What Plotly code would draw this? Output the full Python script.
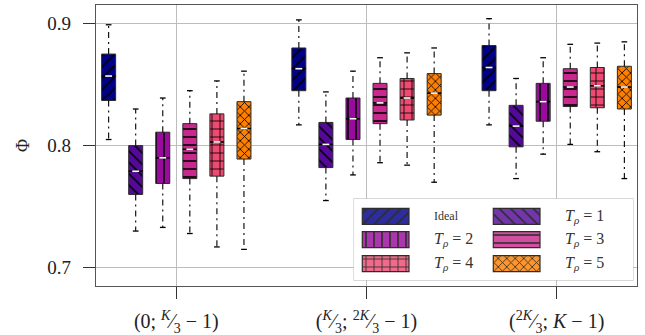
import plotly.graph_objects as go

# ---------------- data ----------------
group_labels = [
    "(0; <sup><i>K</i></sup>⁄<sub>3</sub> − 1)",
    "(<sup><i>K</i></sup>⁄<sub>3</sub>; <sup>2<i>K</i></sup>⁄<sub>3</sub> − 1)",
    "(<sup>2<i>K</i></sup>⁄<sub>3</sub>; <i>K</i> − 1)",
]
series_names = ["Ideal", "T1", "T2", "T3", "T4", "T5"]
legend_texts = [
    "Ideal",
    "<i>T</i><sub><i>ρ</i></sub> = 1",
    "<i>T</i><sub><i>ρ</i></sub> = 2",
    "<i>T</i><sub><i>ρ</i></sub> = 3",
    "<i>T</i><sub><i>ρ</i></sub> = 4",
    "<i>T</i><sub><i>ρ</i></sub> = 5",
]
colors = ["#000088", "#55099a", "#9a0a9c", "#c9288c", "#ef4a72", "#ff8000"]
patterns = ["/", "\\", "|", "-", "+", "x"]

# per series (rows) and per group (columns)
whisker_low = [
    [0.805, 0.817, 0.817],
    [0.730, 0.755, 0.773],
    [0.733, 0.776, 0.793],
    [0.728, 0.786, 0.801],
    [0.717, 0.784, 0.795],
    [0.715, 0.770, 0.773],
]
q1 = [
    [0.837, 0.845, 0.845],
    [0.760, 0.782, 0.799],
    [0.769, 0.805, 0.820],
    [0.773, 0.818, 0.832],
    [0.775, 0.821, 0.831],
    [0.789, 0.825, 0.830],
]
median = [
    [0.857, 0.863, 0.864],
    [0.779, 0.801, 0.816],
    [0.790, 0.822, 0.836],
    [0.797, 0.835, 0.848],
    [0.803, 0.839, 0.849],
    [0.814, 0.843, 0.848],
]
q3 = [
    [0.875, 0.880, 0.882],
    [0.800, 0.819, 0.833],
    [0.811, 0.839, 0.851],
    [0.818, 0.851, 0.863],
    [0.826, 0.855, 0.864],
    [0.836, 0.859, 0.865],
]
whisker_high = [
    [0.899, 0.903, 0.904],
    [0.830, 0.844, 0.855],
    [0.839, 0.861, 0.872],
    [0.845, 0.872, 0.883],
    [0.853, 0.876, 0.884],
    [0.861, 0.880, 0.885],
]
y_ticks = [0.7, 0.8, 0.9]
y_tick_labels = ["0.7", "0.8", "0.9"]

# ---------------- layout constants ----------------
FONT = "Liberation Serif"
n_series = len(series_names)
spacing = 0.1423
box_w = 0.0736
cap_half = 0.015
med_white_half = 0.018

def pat(s):
    return dict(shape=patterns[s], fgcolor="black", bgcolor=colors[s], fgopacity=1,
                size=8 if s < 5 else 6, solidity=0.2 if s < 5 else 0.26)

fig = go.Figure()

whx, why, capx, capy, mbx, mby, mwx, mwy = [], [], [], [], [], [], [], []
for s in range(n_series):
    off = (s - (n_series - 1) / 2) * spacing
    xs = [g + off for g in range(len(group_labels))]
    fig.add_trace(go.Bar(
        x=xs, y=[b - a for a, b in zip(q1[s], q3[s])], base=q1[s], width=box_w,
        marker=dict(color=colors[s], line=dict(color="#2a2a2a", width=1), pattern=pat(s)),
        showlegend=False, name=series_names[s], xaxis="x", yaxis="y", hoverinfo="skip",
    ))
    for g, x in enumerate(xs):
        whx += [x, x, None, x, x, None]
        why += [q3[s][g], whisker_high[s][g], None, q1[s][g], whisker_low[s][g], None]
        capx += [x - cap_half, x + cap_half, None, x - cap_half, x + cap_half, None]
        capy += [whisker_high[s][g], whisker_high[s][g], None, whisker_low[s][g], whisker_low[s][g], None]
        mbx += [x - box_w / 2, x + box_w / 2, None]
        mby += [median[s][g], median[s][g], None]
        mwx += [x - med_white_half, x + med_white_half, None]
        mwy += [median[s][g], median[s][g], None]

fig.add_trace(go.Scatter(x=whx, y=why, mode="lines", line=dict(color="black", width=1.1, dash="6px,4px,2px,4px"),
                         showlegend=False, hoverinfo="skip"))
fig.add_trace(go.Scatter(x=capx, y=capy, mode="lines", line=dict(color="black", width=1.3),
                         showlegend=False, hoverinfo="skip"))
fig.add_trace(go.Scatter(x=mbx, y=mby, mode="lines", line=dict(color="black", width=1.6),
                         showlegend=False, hoverinfo="skip"))
fig.add_trace(go.Scatter(x=mwx, y=mwy, mode="lines", line=dict(color="white", width=1.6),
                         showlegend=False, hoverinfo="skip"))

# ---------------- custom legend (inset axes, local pixel units) ----------------
leg_rows = [17.3, 40.7, 64.7]
leg_cols = [8.3, 139.3]
leg_text_x = [78.3, 209.3]
sw_w, sw_h = 46.7, 16
for s in range(n_series):
    r, c = divmod(s, 2)
    fig.add_trace(go.Bar(
        x=[sw_w], y=[leg_rows[r]], base=[leg_cols[c]], width=sw_h, orientation="h",
        marker=dict(color=colors[s], opacity=0.82, line=dict(color="black", width=1.2), pattern=pat(s)),
        showlegend=False, xaxis="x2", yaxis="y2", hoverinfo="skip",
    ))
    fig.add_annotation(x=leg_text_x[c], y=leg_rows[r], xref="x2", yref="y2", text=legend_texts[s],
                       showarrow=False, xanchor="left", yanchor="middle",
                       font=dict(family=FONT, size=12 if s == 0 else 16, color="#333"))

fig.add_shape(type="rect", xref="x2 domain", yref="y2 domain", x0=0, x1=1, y0=0, y1=1,
              layer="below", fillcolor="rgba(255,255,255,0.85)", line=dict(color="#cccccc", width=1.3))

axis_common = dict(showline=True, mirror=True, linecolor="#555", linewidth=1.3,
                   ticks="outside", ticklen=12, tickcolor="#333", tickwidth=1.2,
                   showgrid=True, gridcolor="#bdbdbd", gridwidth=1.3, zeroline=False,
                   automargin=False)

fig.update_layout(
    template="none",
    width=645, height=335,
    margin=dict(l=96, r=8, t=5, b=49, pad=0),
    paper_bgcolor="white", plot_bgcolor="white",
    barmode="overlay", showlegend=False,
    xaxis=dict(range=[-0.4222, 2.4222], tickvals=[0, 1, 2], ticktext=group_labels,
               ticklabelstandoff=5, tickfont=dict(family=FONT, size=20, color="#222"),
               **axis_common),
    yaxis=dict(range=[0.685, 0.9152], tickvals=y_ticks, ticktext=y_tick_labels,
               ticklabelstandoff=8, tickfont=dict(family=FONT, size=19, color="#222"),
               title=dict(text="Φ", standoff=13, font=dict(family=FONT, size=18, color="#222")),
               **axis_common),
    xaxis2=dict(domain=[0.4769, 0.9926], range=[0, 279], visible=False, anchor="y2", fixedrange=True),
    yaxis2=dict(domain=[0.0214, 0.3096], range=[81, 0], visible=False, anchor="x2", fixedrange=True),
)

fig.write_html("out.html", config={"displayModeBar": False, "staticPlot": True},
               post_script="document.body.style.margin='0';")
